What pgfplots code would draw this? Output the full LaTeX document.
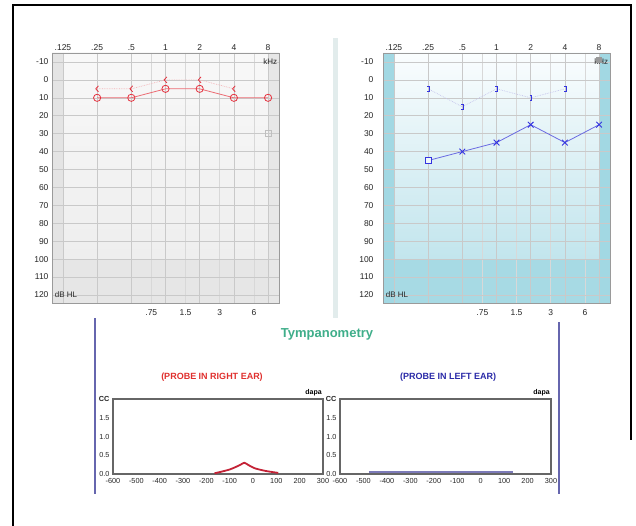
\documentclass[border=0pt]{standalone}
\usepackage{pgfplots}
\pgfplotsset{compat=1.18}
\usepackage{fontspec}
\setmainfont{Liberation Sans}

\definecolor{redm}{HTML}{E5323F}
\definecolor{redl}{HTML}{EC6B73}
\definecolor{redbone}{HTML}{F4B2B6}
\definecolor{bluem}{HTML}{3434E0}
\definecolor{bluel}{HTML}{6A6AE2}
\definecolor{bluebone}{HTML}{C4C4EC}
\definecolor{gridc}{HTML}{C9C9C9}
\definecolor{gridm}{HTML}{D8D8D8}
\definecolor{boxc}{HTML}{9A9A9A}
\definecolor{greyA}{HTML}{F8F8F8}
\definecolor{greyB}{HTML}{EEEEEE}
\definecolor{greyS}{HTML}{E4E4E4}
\definecolor{tealA}{HTML}{FAFDFE}
\definecolor{tealB}{HTML}{C2E5ED}
\definecolor{tealS}{HTML}{A2D8E3}
\definecolor{tympgreen}{HTML}{3FAE8A}
\definecolor{probered}{HTML}{E0302E}
\definecolor{probeblue}{HTML}{2A2AA8}
\definecolor{tympred}{HTML}{C42236}
\definecolor{tympblue}{HTML}{7C7AB8}
\definecolor{sepline}{HTML}{6666AE}
\definecolor{sepbar}{HTML}{E2ECEC}

\pgfdeclareplotmark{bonel}{%
  \pgfpathmoveto{\pgfpoint{0.45\pgfplotmarksize}{\pgfplotmarksize}}%
  \pgfpathlineto{\pgfpoint{-0.45\pgfplotmarksize}{0pt}}%
  \pgfpathlineto{\pgfpoint{0.45\pgfplotmarksize}{-\pgfplotmarksize}}%
  \pgfusepathqstroke}
\pgfdeclareplotmark{boner}{%
  \pgfpathmoveto{\pgfpoint{-0.4\pgfplotmarksize}{\pgfplotmarksize}}%
  \pgfpathlineto{\pgfpoint{0.4\pgfplotmarksize}{\pgfplotmarksize}}%
  \pgfpathlineto{\pgfpoint{0.4\pgfplotmarksize}{-\pgfplotmarksize}}%
  \pgfpathlineto{\pgfpoint{-0.4\pgfplotmarksize}{-\pgfplotmarksize}}%
  \pgfusepathqstroke}

\pgfplotsset{
  audiogram/.style={
    anchor=north west, scale only axis, width=227pt, height=250pt,
    xmin=-0.32, xmax=6.32, ymin=-15, ymax=124.5, y dir=reverse,
    clip=false,
    xtick={0,1,2,3,4,5,6}, xticklabels={.125,.25,.5,1,2,4,8},
    xticklabel pos=upper,
    minor xtick={2.585,3.585,4.585,5.585},
    ytick={-10,0,10,20,30,40,50,60,70,80,90,100,110,120},
    yticklabels={-10,0,10,20,30,40,50,60,70,80,90,100,110,120},
    grid=both,
    major grid style={draw=gridc, line width=0.6pt},
    minor grid style={draw=gridm, line width=0.5pt},
    major tick length=0pt, minor tick length=0pt,
    axis line style={draw=boxc, line width=0.8pt},
    tick label style={font=\fontsize{8.5}{9}\selectfont, text=black!85},
    xticklabel style={yshift=-1pt},
  },
  tymp/.style={
    anchor=north west, scale only axis, height=75pt,
    xmin=-600, xmax=300, ymin=0, ymax=2, clip=false,
    xtick={-600,-500,-400,-300,-200,-100,0,100,200,300},
    xticklabels={-600,-500,-400,-300,-200,-100,0,100,200,300},
    ytick={0,0.5,1,1.5,2},
    yticklabels={0.0,0.5,1.0,1.5,\textbf{CC}},
    major tick length=0pt,
    axis line style={draw=black!60, line width=1.3pt},
    tick label style={font=\fontsize{7.3}{8}\selectfont, text=black!85},
    xticklabel style={yshift=-0.5pt},
  },
}

\begin{document}
\begin{tikzpicture}
\path[use as bounding box] (0,0) rectangle (636pt,-526pt);
\fill[white] (0,0) rectangle (636pt,-526pt);
% outer frame
\draw[black, line width=2.5pt] (13pt,-526pt) -- (13pt,-5pt) -- (631pt,-5pt) -- (631pt,-440pt);
% separator between audiograms
\fill[sepbar] (333pt,-38pt) rectangle (338pt,-318pt);

% backgrounds of the audiograms
\shade[top color=greyA, bottom color=greyB] (52pt,-53pt) rectangle (279pt,-259pt);
\fill[greyS!80!greyB] (52pt,-259pt) rectangle (279pt,-303pt);
\fill[greyS] (52pt,-53pt) rectangle (63pt,-303pt);
\fill[greyS!70!greyB] (268pt,-53pt) rectangle (279pt,-303pt);

\shade[top color=tealA, bottom color=tealB] (383pt,-53pt) rectangle (610pt,-259pt);
\fill[tealS!85!tealB] (383pt,-259pt) rectangle (610pt,-303pt);
\fill[tealS] (383pt,-53pt) rectangle (394pt,-303pt);
\fill[tealS] (599pt,-53pt) rectangle (610pt,-303pt);

% ---------------- Left audiogram (right ear, red) ----------------
\begin{axis}[audiogram, at={(52pt,-53pt)}]
% bone conduction (unmasked, right)
\addplot[redbone, densely dotted, line width=0.7pt, mark=bonel, mark size=3pt,
  mark options={solid, draw=redm, line width=0.8pt}]
  coordinates {(1,5) (2,5) (3,0) (4,0) (5,5)};
% air conduction (right)
\addplot[redl, line width=0.8pt, mark=o, mark size=3.6pt,
  mark options={draw=redm, fill=greyA, line width=0.8pt}]
  coordinates {(1,10) (2,10) (3,5) (4,5) (5,10) (6,10)};
\addplot[black!25, only marks, mark=square, mark size=3pt, mark options={line width=0.6pt}]
  coordinates {(6,30)};
\node[anchor=east, font=\fontsize{8}{9}\selectfont, text=black!85, inner sep=1pt] at (axis cs:6.3,-10) {kHz};
\node[anchor=west, font=\fontsize{8}{9}\selectfont, text=black!85, inner sep=1pt] at (axis cs:-0.27,120) {dB HL};
\node[font=\fontsize{8.5}{9}\selectfont, text=black!85, yshift=-10pt] at (axis cs:2.585,124.5) {.75};
\node[font=\fontsize{8.5}{9}\selectfont, text=black!85, yshift=-10pt] at (axis cs:3.585,124.5) {1.5};
\node[font=\fontsize{8.5}{9}\selectfont, text=black!85, yshift=-10pt] at (axis cs:4.585,124.5) {3};
\node[font=\fontsize{8.5}{9}\selectfont, text=black!85, yshift=-10pt] at (axis cs:5.585,124.5) {6};
\end{axis}

% ---------------- Right audiogram (left ear, blue) ----------------
\begin{axis}[audiogram, at={(383pt,-53pt)}, yticklabel style={xshift=-6pt}]
% bone conduction (masked, left)
\addplot[bluebone, densely dotted, line width=0.7pt, mark=boner, mark size=2.7pt,
  mark options={solid, draw=bluem, line width=0.8pt}]
  coordinates {(1,5) (2,15) (3,5) (4,10) (5,5)};
% air conduction line (left)
\addplot[bluel, line width=0.8pt] coordinates {(1,45) (2,40) (3,35) (4,25) (5,35) (6,25)};
\addplot[bluem, only marks, mark=x, mark size=4pt, mark options={line width=0.9pt}]
  coordinates {(2,40) (3,35) (4,25) (5,35) (6,25)};
\addplot[bluem, only marks, mark=square*, mark size=3pt, mark options={fill=tealA!80!tealB, line width=0.8pt}]
  coordinates {(1,45)};
\addplot[black!40, only marks, mark=square*, mark size=2.5pt]
  coordinates {(6,-11)};
\node[anchor=east, font=\fontsize{8}{9}\selectfont, text=black!85, inner sep=1pt] at (axis cs:6.3,-10) {kHz};
\node[anchor=west, font=\fontsize{8}{9}\selectfont, text=black!85, inner sep=1pt] at (axis cs:-0.27,120) {dB HL};
\node[font=\fontsize{8.5}{9}\selectfont, text=black!85, yshift=-10pt] at (axis cs:2.585,124.5) {.75};
\node[font=\fontsize{8.5}{9}\selectfont, text=black!85, yshift=-10pt] at (axis cs:3.585,124.5) {1.5};
\node[font=\fontsize{8.5}{9}\selectfont, text=black!85, yshift=-10pt] at (axis cs:4.585,124.5) {3};
\node[font=\fontsize{8.5}{9}\selectfont, text=black!85, yshift=-10pt] at (axis cs:5.585,124.5) {6};
\end{axis}

% ---------------- Tympanometry ----------------
\draw[sepline, line width=1.2pt] (95pt,-318pt) -- (95pt,-494pt);
\draw[sepline, line width=1.2pt] (559pt,-322pt) -- (559pt,-494pt);
\node[font=\bfseries\fontsize{13}{15}\selectfont, text=tympgreen] at (327pt,-334pt) {Tympanometry};
\node[font=\bfseries\fontsize{9}{10}\selectfont, text=probered] at (212pt,-377pt) {(PROBE IN RIGHT EAR)};
\node[font=\bfseries\fontsize{9}{10}\selectfont, text=probeblue] at (448pt,-377pt) {(PROBE IN LEFT EAR)};

\begin{axis}[tymp, at={(113pt,-399pt)}, width=210pt]
\addplot[tympred, line width=1.8pt, smooth, tension=0.4] coordinates {
  (-165,0.02) (-143,0.05) (-100,0.12) (-73,0.19) (-53,0.25) (-37,0.30)
  (-20,0.24) (9,0.15) (55,0.08) (108,0.03)};
\node[anchor=south east, font=\bfseries\fontsize{7}{8}\selectfont, inner sep=1pt, yshift=2pt] at (axis cs:300,2) {dapa};
\end{axis}

\begin{axis}[tymp, at={(340pt,-399pt)}, width=211pt]
\addplot[tympblue, line width=1.8pt] coordinates {(-477,0.06) (136,0.06)};
\node[anchor=south east, font=\bfseries\fontsize{7}{8}\selectfont, inner sep=1pt, yshift=2pt] at (axis cs:300,2) {dapa};
\end{axis}
\end{tikzpicture}
\end{document}
